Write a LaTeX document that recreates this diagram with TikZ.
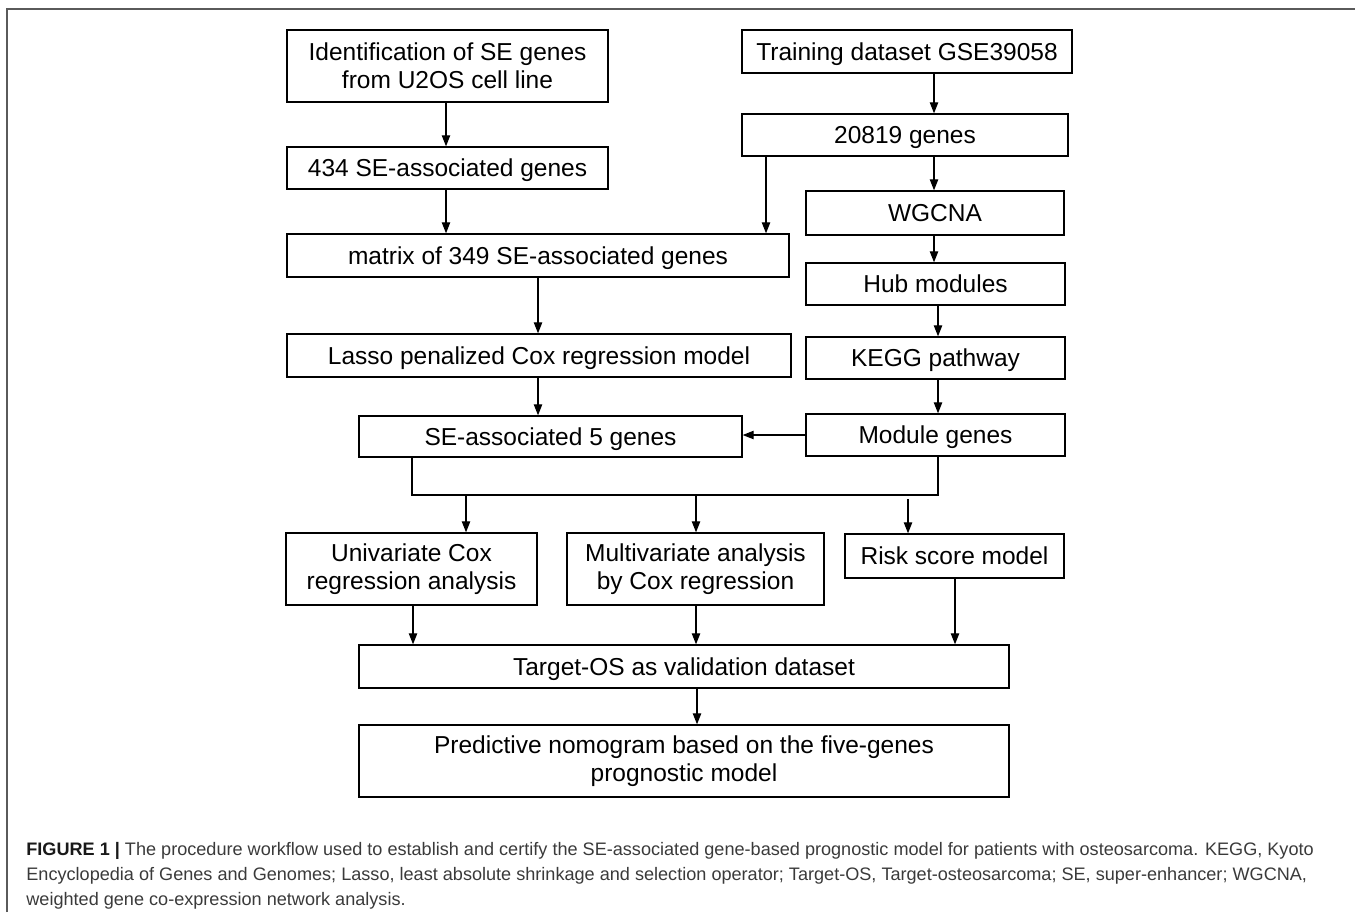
\documentclass[tikz,border=0pt]{standalone}
\usepackage{fontspec}
\setmainfont{Liberation Sans}
\usetikzlibrary{arrows.meta}
\definecolor{captxt}{HTML}{3A3A3A}
\definecolor{framec}{HTML}{5A5A5A}
\begin{document}
\begin{tikzpicture}[x=0.5pt,y=-0.5pt,
  box/.style={draw=black, line width=0.7pt, inner sep=0pt, align=center,
    font=\fontsize{12.25}{14}\selectfont},
  one/.style={text height=8.8pt, text depth=0pt},
  wh/.style 2 args={minimum width=#1*0.5pt, minimum height=#2*0.5pt},
  arr/.style={-{Triangle[length=5.5pt,width=4.2pt]}, line width=0.6pt},
  ln/.style={line width=0.6pt},
  captext/.style={anchor=base west, inner sep=0pt, text=captxt,
    font=\fontsize{9.05}{11}\selectfont}]
\useasboundingbox (0,0) rectangle (1355,912);
\draw[line width=1pt, draw=framec] (7,912) -- (7,9) -- (1355,9);

% boxes
\node[box, wh={321}{72}] (A) at (447.5,66) {Identification of SE genes\\from U2OS cell line};
\node[box, one, wh={330}{43}] (B) at (907,51.5) {Training dataset GSE39058};
\node[box, one, wh={326}{42}] (C) at (905,135) {20819 genes};
\node[box, one, wh={321}{42}] (D) at (447.5,168) {434 SE-associated genes};
\node[box, one, wh={502}{43}] (E) at (538,255.5) {matrix of 349 SE-associated genes};
\node[box, one, wh={258}{44}] (F) at (935,213) {WGCNA};
\node[box, one, wh={259}{42}] (G) at (935.5,284) {Hub modules};
\node[box, one, wh={504}{43}] (H) at (539,355.5) {Lasso penalized Cox regression model};
\node[box, one, wh={259}{42}] (I) at (935.5,358) {KEGG pathway};
\node[box, one, wh={383}{41}] (J) at (550.5,436.5) {SE-associated 5 genes};
\node[box, one, wh={259}{42}] (K) at (935.5,435) {Module genes};
\node[box, wh={251}{72}] (L) at (411.5,569) {Univariate Cox\\regression analysis};
\node[box, wh={257}{72}] (M) at (695.5,569) {Multivariate analysis\\by Cox regression};
\node[box, one, wh={219}{44}] (N) at (954.5,556) {Risk score model};
\node[box, one, wh={650}{43}] (O) at (684,666.5) {Target-OS as validation dataset};
\node[box, wh={650}{72}] (P) at (684,761) {Predictive nomogram based on the five-genes\\prognostic model};

% column coordinates
\coordinate (xa) at (446,0);
\coordinate (xb) at (934,0);
\coordinate (xc) at (766,0);
\coordinate (xd) at (938,0);
\coordinate (xe) at (538,0);
\coordinate (busL) at (412,495);
\coordinate (busR) at (938,495);
\coordinate (tL) at (466,495);
\coordinate (tM) at (696,495);
\coordinate (tN) at (908,499);
\coordinate (xl) at (413,0);
\coordinate (xm) at (696,0);
\coordinate (xn) at (955,0);
\coordinate (xo) at (697,0);

% connectors
\draw[arr] (A.south -| xa) -- (D.north -| xa);
\draw[arr] (D.south -| xa) -- (E.north -| xa);
\draw[arr] (B.south -| xb) -- (C.north -| xb);
\draw[arr] (C.south -| xb) -- (F.north -| xb);
\draw[arr] (F.south -| xb) -- (G.north -| xb);
\draw[arr] (C.south -| xc) -- (E.north -| xc);
\draw[arr] (E.south -| xe) -- (H.north -| xe);
\draw[arr] (H.south -| xe) -- (J.north -| xe);
\draw[arr] (G.south -| xd) -- (I.north -| xd);
\draw[arr] (I.south -| xd) -- (K.north -| xd);
\draw[arr] (K.west) -- (K.west -| J.east);
\draw[ln] (J.south -| busL) -- (busL) -- (busR) -- (K.south -| busR);
\draw[arr] (tL) -- (L.north -| tL);
\draw[arr] (tM) -- (M.north -| tM);
\draw[arr] (tN) -- (N.north -| tN);
\draw[arr] (L.south -| xl) -- (O.north -| xl);
\draw[arr] (M.south -| xm) -- (O.north -| xm);
\draw[arr] (N.south -| xn) -- (O.north -| xn);
\draw[arr] (O.south -| xo) -- (P.north -| xo);

% caption
\node[captext] (cap1) at (26,855) {{\bfseries\color{black!90}FIGURE 1 |} The procedure workflow used to establish and certify the SE-associated gene-based prognostic model for patients with osteosarcoma. KEGG, Kyoto};
\node[captext] (cap2) at (26,880) {Encyclopedia of Genes and Genomes; Lasso, least absolute shrinkage and selection operator; Target-OS, Target-osteosarcoma; SE, super-enhancer; WGCNA,};
\node[captext] (cap3) at (26,905) {weighted gene co-expression network analysis.};
\end{tikzpicture}
\end{document}
